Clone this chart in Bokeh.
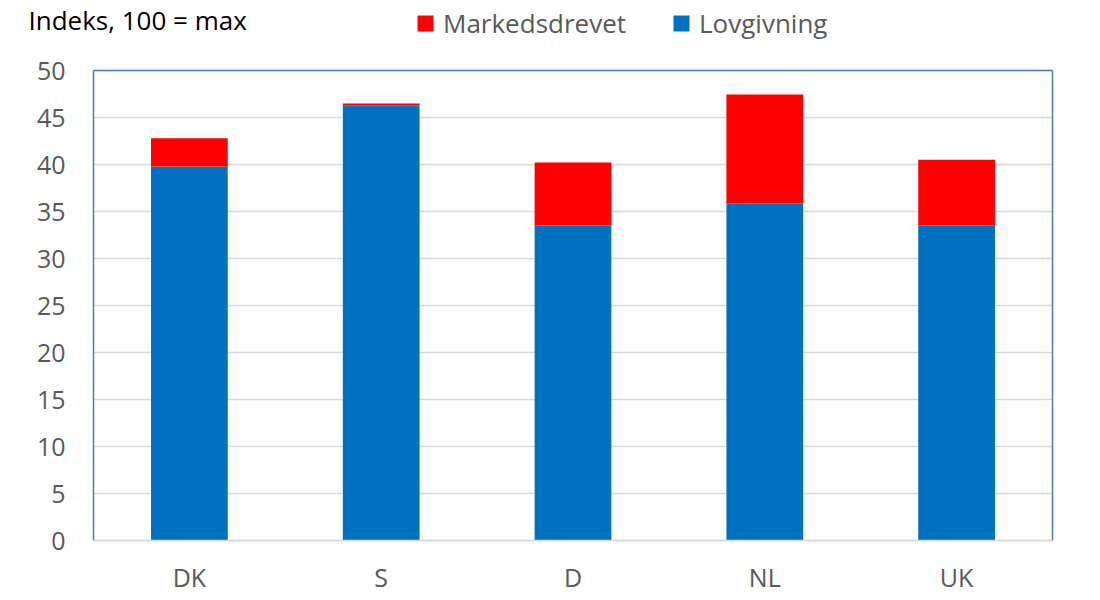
from bokeh.plotting import figure
from bokeh.models import (ColumnDataSource, Legend, LegendItem, Label, FixedTicker,
                          Range1d, Grid)
from bokeh.embed import file_html
from bokeh.resources import INLINE

countries = ["DK", "S", "D", "NL", "UK"]
lovgivning = [39.8, 46.3, 33.5, 35.85, 33.5]
markedsdrevet = [3.0, 0.2, 6.7, 11.6, 7.0]
y_ticks = [0, 5, 10, 15, 20, 25, 30, 35, 40, 45, 50]
y_max = 50

FONT = "Open Sans"
GREY = "#595959"
BLUE = "#0070C0"
RED = "#FF0000"
FRAME = "#4A7EBB"

W, H = 1092, 592
AREA_L, AREA_R, AREA_T, AREA_B = 93, 1052, 70, 540   # plot-area box in canvas px

n = len(countries)
xs = [i + 0.5 for i in range(n)]
px_x = (AREA_R - AREA_L) / n
px_y = (AREA_B - AREA_T) / y_max

src = ColumnDataSource(dict(x=xs, Lovgivning=lovgivning, Markedsdrevet=markedsdrevet))

p = figure(x_range=Range1d(-AREA_L / px_x, n + (W - AREA_R) / px_x),
           y_range=Range1d(-(H - AREA_B) / px_y, y_max + AREA_T / px_y),
           width=W, height=H, output_backend="svg", toolbar_location=None,
           min_border_left=0, min_border_right=0, min_border_top=0, min_border_bottom=0)
p.outline_line_color = None

rs = p.vbar_stack(["Lovgivning", "Markedsdrevet"], x="x", width=0.4, source=src,
                  color=[BLUE, RED], line_color=None)

# plot-area border (left, right, top)
p.segment(x0=[0, n, 0], y0=[0, 0, y_max], x1=[0, n, n], y1=[y_max, y_max, y_max],
          line_color=FRAME, line_width=1.5)

p.xgrid.grid_line_color = None
p.ygrid.grid_line_color = "#D9D9D9"
p.ygrid.grid_line_width = 1.5
if "cross_bounds" in Grid.properties():
    p.ygrid.cross_bounds = (0, n)
else:
    p.ygrid.grid_line_color = None
    p.segment(x0=[0] * len(y_ticks), x1=[n] * len(y_ticks), y0=y_ticks, y1=y_ticks,
              line_color="#D9D9D9", line_width=1.5, level="underlay")

p.yaxis.fixed_location = 0
p.yaxis.ticker = FixedTicker(ticks=y_ticks)
p.yaxis.axis_line_color = None
p.yaxis.major_tick_line_color = None
p.yaxis.minor_tick_line_color = None
p.yaxis.major_label_standoff = 22

p.xaxis.fixed_location = 0
p.xaxis.bounds = (0, n)
p.xaxis.ticker = FixedTicker(ticks=xs)
p.xaxis.major_label_overrides = {x: c for x, c in zip(xs, countries)}
p.xaxis.axis_line_color = "#D9D9D9"
p.xaxis.axis_line_width = 1.5
p.xaxis.major_tick_line_color = None
p.xaxis.minor_tick_line_color = None
p.xaxis.major_label_standoff = 13
for ax in (p.xaxis, p.yaxis):
    ax.major_label_text_font = FONT
    ax.major_label_text_font_size = "25px"
    ax.major_label_text_color = GREY

title = Label(x=28, y=H - 19, x_units="screen", y_units="screen",
              text="Indeks, 100 = max", text_font=FONT,
              text_font_size="26px", text_color="black", text_baseline="middle")
p.add_layout(title)

legend = Legend(items=[LegendItem(label="Markedsdrevet", renderers=[rs[1]]),
                       LegendItem(label="Lovgivning", renderers=[rs[0]])],
                orientation="horizontal", location=(415, H - 41),
                label_text_font=FONT, label_text_font_size="26px", label_text_color=GREY,
                glyph_width=20, glyph_height=20, spacing=45, label_standoff=8,
                border_line_color=None, background_fill_alpha=0, padding=0, margin=0)
p.add_layout(legend)

open("out.html", "w").write(file_html(p, INLINE))
